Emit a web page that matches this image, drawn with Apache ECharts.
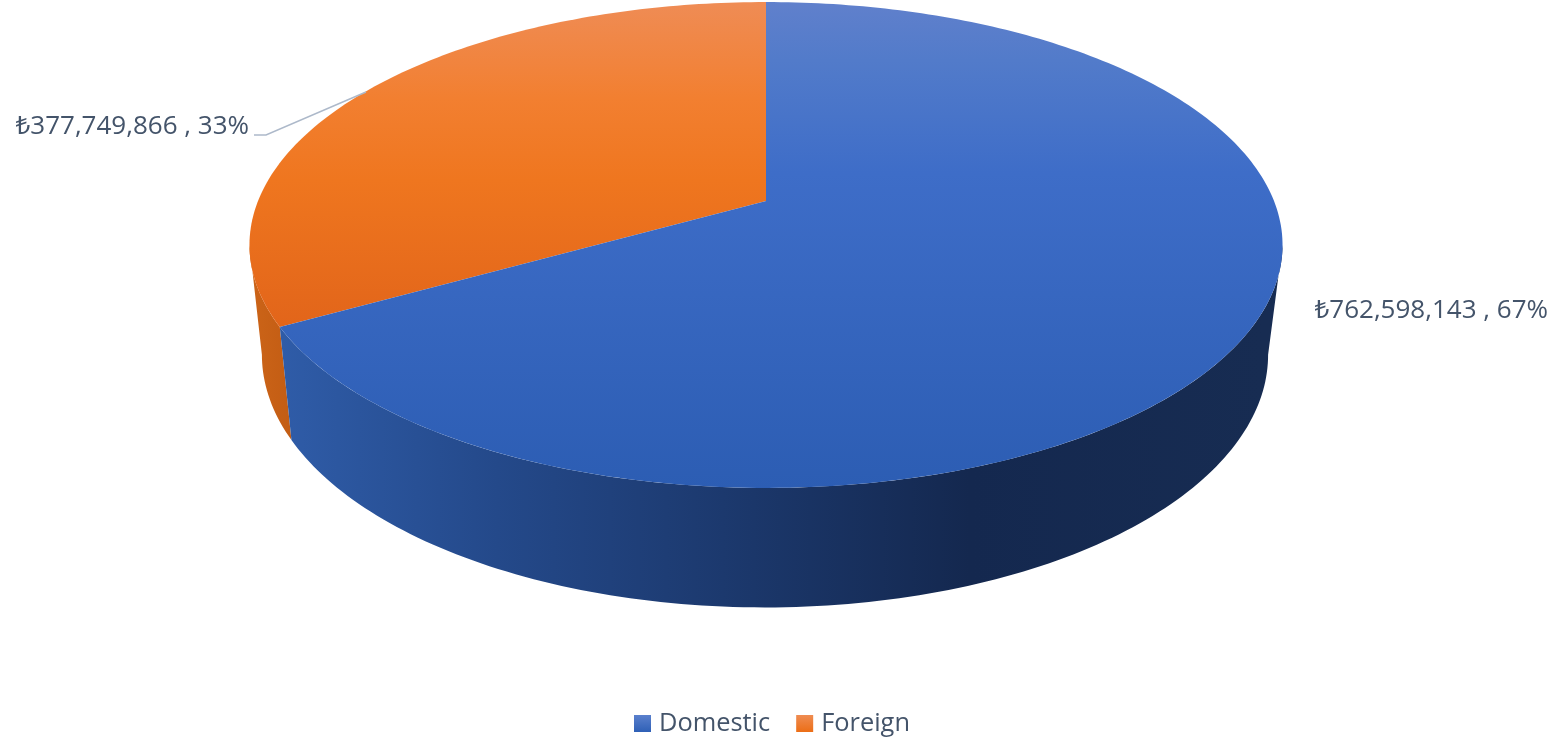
<!DOCTYPE html>
<html><head><meta charset="utf-8">
<style>html,body{margin:0;padding:0;background:#fff}#c{width:1557px;height:741px}</style>
<script src="https://cdn.jsdelivr.net/npm/echarts@6/dist/echarts.min.js"></script>
</head><body><div id="c"></div>
<script>
var categories = ['Domestic', 'Foreign'];
var values = [762598143, 377749866];
var total = values.reduce(function (a, b) { return a + b; }, 0);

var chart = echarts.init(document.getElementById('c'));
var LG = echarts.graphic.LinearGradient;
function vGrad(stops) { return new LG(0, 2, 0, 490, stops, true); }
var topFills = [
  vGrad([{offset:0,color:'#6080cc'},{offset:0.12,color:'#527bca'},{offset:0.35,color:'#3e6dc8'},{offset:1,color:'#2c5db3'}]),
  new LG(0, 2, 0, 326, [{offset:0,color:'#ef8c55'},{offset:0.3,color:'#f27f30'},{offset:0.55,color:'#ef761f'},{offset:1,color:'#e2651a'}], true)
];
var wallFills = [
  new LG(280, 0, 1265, 0, [{offset:0,color:'#2f5ca8'},{offset:0.22,color:'#24498a'},{offset:0.45,color:'#1c396e'},{offset:0.7,color:'#14284f'},{offset:1,color:'#172c52'}], true),
  new LG(250, 0, 290, 0, [{offset:0,color:'#cc6418'},{offset:1,color:'#c35d14'}], true)
];
var legendFills = [
  new LG(0, 0, 0, 1, [{offset:0,color:'#5a80cd'},{offset:1,color:'#2f60b6'}]),
  new LG(0, 0, 0, 1, [{offset:0,color:'#ef8c52'},{offset:1,color:'#ec6e16'}])
];

// Perspective projection of the pie plane
var CX = 766, CY = 201, AX = 508, AY = 198.6, PERSP = 0.181;
var RAD = Math.PI / 180;
function topPoint(deg) {
  var u = Math.sin(deg * RAD), v = -Math.cos(deg * RAD);
  var w = 1 / (1 - PERSP * v);
  return [CX + AX * u * w, (AY * v + CY) * w];
}
function basePoint(p) {
  return [CX - 1 + (p[0] - CX) * 0.974, p[1] + 108 + (p[1] - 200) * 0.04];
}
var RIGHT_FOLD = 100.4, LEFT_FOLD = 259.6;

function arc(a, b) {
  var pts = [], n = Math.max(2, Math.ceil(Math.abs(b - a)));
  for (var i = 0; i <= n; i++) pts.push(topPoint(a + (b - a) * i / n));
  return pts;
}
function sliceRange(idx) {
  var s = 0;
  for (var i = 0; i < idx; i++) s += values[i];
  return [s / total * 360, (s + values[idx]) / total * 360];
}
function fmt(v) { return '\u20BA' + v.toLocaleString('en-US') + ' , ' + Math.round(v / total * 100) + '%'; }

var labelPlace = [
  { x: 1548, y: 311, align: 'right' },
  { x: 249, y: 127, align: 'right' }
];

function renderSlice(idx) {
  return function () {
    var r = sliceRange(idx);
    var children = [];
    var wa = Math.max(r[0], RIGHT_FOLD), wb = Math.min(r[1], LEFT_FOLD);
    if (wb > wa) {
      var upper = arc(wa, wb);
      var lower = upper.map(basePoint).reverse();
      children.push({ type: 'polygon', shape: { points: upper.concat(lower) }, style: { fill: wallFills[idx] } });
    }
    var pts = [[CX, CY]].concat(arc(r[0], r[1]));
    children.push({ type: 'polygon', shape: { points: pts }, style: { fill: topFills[idx] } });
    if (idx === 1) {
      children.push({ type: 'polyline', shape: { points: [[254, 135], [266, 135], [366, 92]] },
        style: { stroke: '#adb9ca', lineWidth: 1.5, fill: 'none' } });
    }
    var lp = labelPlace[idx];
    children.push({ type: 'text', x: lp.x, y: lp.y, style: {
      text: fmt(values[idx]), fill: '#44546a', align: lp.align, verticalAlign: 'middle',
      font: '26px "Open Sans", "Noto Sans", sans-serif' } });
    return { type: 'group', children: children };
  };
}

chart.setOption({
  animation: false,
  backgroundColor: '#ffffff',
  legend: {
    show: true, left: 629, top: 706, itemWidth: 17, itemHeight: 17, itemGap: 26, icon: 'rect',
    textStyle: { color: '#44546a', fontSize: 25.4, fontFamily: '"Open Sans", "Noto Sans", sans-serif', padding: [0, 0, 0, 3] },
    data: categories.map(function (c, i) { return { name: c, itemStyle: { color: legendFills[i] } }; })
  },
  series: categories.map(function (c, i) {
    return { type: 'custom', name: c, coordinateSystem: 'none', silent: true,
      itemStyle: { color: legendFills[i] }, renderItem: renderSlice(i), data: [values[i]], z: 2 - i };
  })
});
</script></body></html>
